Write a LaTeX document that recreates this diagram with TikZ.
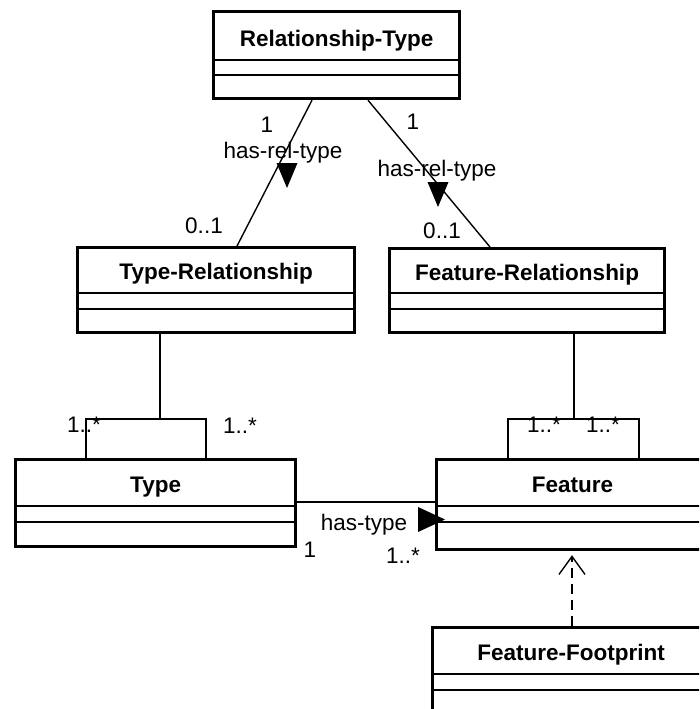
\documentclass[tikz,border=0pt]{standalone}
\usepackage{fontspec}
\setmainfont{Liberation Sans}
\usetikzlibrary{calc,arrows.meta}

% A UML class box: name, top-left x, top-left y, width, height,
% title baseline offset, first and second divider offsets, title text
\newcommand{\umlclass}[9]{%
  \node[classbox, minimum width=#4pt, minimum height=#5pt, anchor=north west] (#1) at (#2,#3) {};
  \node[classtitle, anchor=base] (#1-title) at ($(#1.north)+(0,#6)$) {#9};
  \draw[divider] ($(#1.north west)+(0,#7)$) -- ($(#1.north east)+(0,#7)$);
  \draw[divider] ($(#1.north west)+(0,#8)$) -- ($(#1.north east)+(0,#8)$);
}

\begin{document}
\begin{tikzpicture}[x=1pt, y=-1pt,
    classbox/.style={draw, line width=3.2pt, fill=white, rectangle, inner sep=0pt},
    divider/.style={line width=1.5pt},
    classtitle/.style={inner sep=0pt, font=\fontsize{22.5}{26}\selectfont\bfseries},
    assoc/.style={line width=1.4pt},
    lbl/.style={inner sep=0pt, anchor=base, font=\fontsize{22.5}{26}\selectfont},
    navtip/.style={fill=black},
  ]
  \fill[white] (0,0) rectangle (699,709);
  \useasboundingbox (0,0) rectangle (699,709);
  \clip (0,0) rectangle (699,709);

  % junction points of the association-class links
  \coordinate (tj) at (160,419);
  \coordinate (fj) at (574,419);

  % classes
  \umlclass{rt}{212}{10}{246}{87}{37}{50}{65}{Relationship-Type}
  \umlclass{tr}{76}{246}{277}{85}{33}{47}{63}{Type-Relationship}
  \umlclass{fr}{388}{247}{275}{84}{33}{46}{62}{Feature-Relationship}
  \umlclass{ty}{14}{458}{280}{87}{34}{48}{64}{Type}
  \umlclass{fe}{435}{458}{272}{90}{34}{48}{64}{Feature}
  \umlclass{ff}{431}{626}{277}{120}{34}{48}{64}{Feature-Footprint}

  % has-rel-type associations
  \draw[assoc] ($(rt.south west)+(100,0)$) -- ($(tr.north west)+(161,0)$);
  \draw[assoc] ($(rt.south west)+(156,0)$) -- ($(fr.north west)+(102,0)$);
  \fill[navtip] (276.5,163) -- (297.5,163) -- (287,188) -- cycle;
  \fill[navtip] (427.5,182) -- (448.5,182) -- (438,207) -- cycle;

  \node[lbl] (l1) at (267,132) {1};
  \node[lbl] (l2) at (283,158) {has-rel-type};
  \node[lbl] (l3) at (204,233) {0..1};
  \node[lbl] (r1) at (413,129) {1};
  \node[lbl] (r2) at (437,176) {has-rel-type};
  \node[lbl] (r3) at (442,238) {0..1};

  % association classes joined to the self-associations
  \draw[assoc] (tj |- tr.south) -- (tj);
  \draw[assoc] ($(ty.north west)+(72,0)$) |- ($(ty.north west)+(192,-39)$) -- ($(ty.north west)+(192,0)$);
  \draw[assoc] (fj |- fr.south) -- (fj);
  \draw[assoc] ($(fe.north west)+(73,0)$) |- ($(fe.north west)+(204,-39)$) -- ($(fe.north west)+(204,0)$);

  \node[lbl] (t1) at (84,432) {1..*};
  \node[lbl] (t2) at (240,433) {1..*};
  \node[lbl] (f1) at (544,432) {1..*};
  \node[lbl] (f2) at (603,432) {1..*};

  % has-type association
  \draw[assoc] ($(ty.north east)+(0,44)$) -- ($(fe.north west)+(0,44)$);
  \fill[navtip] (418,507) -- (445,519.5) -- (418,532) -- cycle;
  \node[lbl] (h1) at (364,530) {has-type};
  \node[lbl] (h2) at (310,557) {1};
  \node[lbl] (h3) at (403,563) {1..*};

  % dependency of Feature-Footprint on Feature
  \draw[line width=1.4pt, dash pattern=on 10pt off 6pt,
        -{Straight Barb[length=18pt, width=26pt, line width=1.4pt]}]
    ($(ff.north west)+(141,0)$) -- ($(fe.south west)+(137,4)$);
\end{tikzpicture}
\end{document}
